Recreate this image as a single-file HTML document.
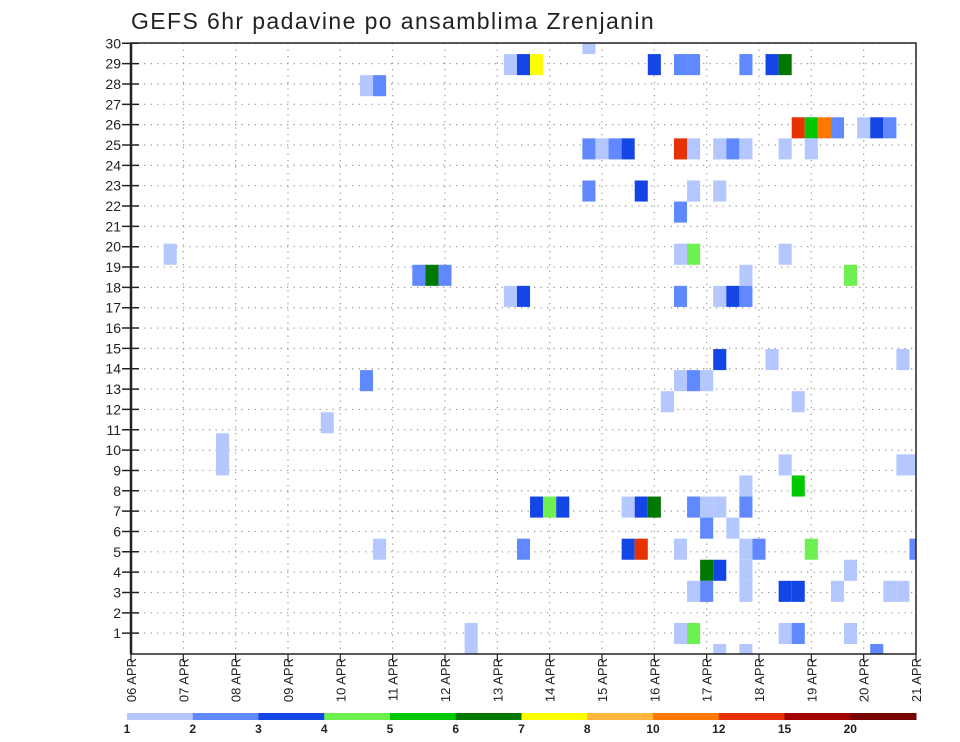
<!DOCTYPE html>
<html><head><meta charset="utf-8">
<style>
html,body{margin:0;padding:0;background:#fff;}
svg{display:block;font-family:"Liberation Sans",sans-serif;}
</style></head>
<body>
<svg id="chart" width="960" height="742" viewBox="0 0 960 742" xmlns="http://www.w3.org/2000/svg">
<text x="131" y="29" font-size="23" fill="#222" letter-spacing="1.4">GEFS 6hr padavine po ansamblima Zrenjanin</text>
<g id="grid"></g><g id="cells"></g><g id="axes"></g><g id="legend"></g>
</svg>
<script>
// time-step index (6h steps from 06 APR 00Z), ensemble member, colour level index
const cellStep = [35, 29,30,31,40,42,43,47,49,50, 18,19, 51,52,53,54,56,57,58,
 35,36,37,38,42,43,45,46,47,50,52, 35,39,43,45, 42, 3,42,43,50,
 22,23,24,47,55, 29,30,42,45,46,47, 45,49,59, 18,42,43,44, 41,51, 15, 7, 7,50,59,60,
 47,51, 31,32,33,38,39,40,43,44,45,47, 44,46, 19,30,38,39,42,47,48,52,60,
 44,45,47,55, 43,44,47,50,51,54,58,59, 26,42,43,50,51,55, 26,45,47,57];
const cellMember = [30, 29,29,29,29,29,29,29,29,29, 28,28, 26,26,26,26,26,26,26,
 25,25,25,25,25,25,25,25,25,25,25, 23,23,23,23, 22, 20,20,20,20,
 19,19,19,19,19, 18,18,18,18,18,18, 15,15,15, 14,14,14,14, 13,13, 12, 11, 10,10,10,10,
 9,9, 8,8,8,8,8,8,8,8,8,8, 7,7, 6,6,6,6,6,6,6,6,6,
 5,5,5,5, 4,4,4,4,4,4,4,4, 2,2,2,2,2,2, 1,1,1,1];
const cellLevel = [0, 0,2,6,2,1,1,1,2,5, 0,1, 9,4,8,1,0,2,1,
 1,0,1,2,9,0,0,1,0,0,0, 1,2,0,0, 1, 0,0,3,0,
 1,5,1,0,3, 0,2,1,0,2,1, 2,0,0, 1,0,1,0, 0,0, 0, 0, 0,0,0,0,
 0,4, 2,3,2,0,2,5,1,0,0,1, 1,0, 0,1,2,9,0,0,1,3,1,
 5,2,0,0, 0,1,0,2,2,0,0,0, 0,0,3,0,1,0, 0,0,0,1];
const levelColors = ["#b4c8ff","#6088ff","#1446e6","#6ef050","#00c800","#007800","#ffff00","#ffb43c","#ff7800","#e63200","#a00000","#780000"];
const levelLabels = ["1","2","3","4","5","6","7","8","10","12","15","20"];
const dayLabels = ["06","07","08","09","10","11","12","13","14","15","16","17","18","19","20","21"];
const memberTicks = [1,2,3,4,5,6,7,8,9,10,11,12,13,14,15,16,17,18,19,20,21,22,23,24,25,26,27,28,29,30];

const NS="http://www.w3.org/2000/svg";
const L=131,R=916,T=43,B=654;
const stepW=(R-L)/60;
const xStep=k=>L+k*stepW;
const xDay=d=>L+d*stepW*4;
const yTick=m=>43.3+(30-m)*20.34;
const rowH=21.07;
const yCellTop=m=>33+(30-m)*rowH;
function el(tag,attrs,parent){const e=document.createElementNS(NS,tag);for(const k in attrs)e.setAttribute(k,attrs[k]);parent.appendChild(e);return e;}

const grid=document.getElementById('grid');
memberTicks.forEach(m=>{
  const g=el('line',{x1:L,x2:R,y1:yTick(m),y2:yTick(m),stroke:'#999','stroke-width':1.2,'stroke-dasharray':'1.3,5.2'},grid);
  
  
});
dayLabels.forEach((d,i)=>{
  const g=el('line',{x1:xDay(i),x2:xDay(i),y1:T,y2:B,stroke:'#999','stroke-width':1.2,'stroke-dasharray':'1.3,5.2'},grid);
  
  
});

const cells=document.getElementById('cells');
const clip=el('clipPath',{id:'plotclip'},cells);
el('rect',{x:L,y:T,width:R-L,height:B-T},clip);
const cg=el('g',{'clip-path':'url(#plotclip)'},cells);
cellStep.forEach((k,i)=>{
  const m=cellMember[i];
  const c=el('rect',{x:xStep(k)-stepW/2,y:yCellTop(m),width:stepW,height:rowH,fill:levelColors[cellLevel[i]]},cg);
  
  
});

const axes=document.getElementById('axes');
const fr=el('rect',{x:L,y:T,width:R-L,height:B-T,fill:'none',stroke:'#222','stroke-width':1.5},axes);


const la=el('line',{x1:L,x2:L,y1:T,y2:B,stroke:'#222','stroke-width':2.5},axes);


memberTicks.forEach(m=>{
  const y=yTick(m);
  el('line',{x1:L-9,x2:L+8,y1:y,y2:y,stroke:'#222','stroke-width':1.5},axes);
  const t=el('text',{x:L-10,y:y+5,'font-size':14,'text-anchor':'end',fill:'#222'},axes);
  t.textContent=m;
  
  
});
dayLabels.forEach((d,i)=>{
  const x=xDay(i);
  el('line',{x1:x,x2:x,y1:B,y2:B+8,stroke:'#222','stroke-width':1.2},axes);
  const t=el('text',{x:0,y:0,'font-size':13,'text-anchor':'end',fill:'#222',transform:'translate('+(x+5)+','+(B+4)+') rotate(-90)'},axes);
  t.textContent=d+' APR';
  
  
});

const leg=document.getElementById('legend');
const lx0=127,lx1=916,segW=(lx1-lx0)/levelColors.length;
levelColors.forEach((c,i)=>{
  const r=el('rect',{x:lx0+i*segW,y:713,width:segW+0.5,height:7,fill:c},leg);
  
  
  const t=el('text',{x:lx0+i*segW,y:733,'font-size':12,'font-weight':'bold','text-anchor':'middle',fill:'#222'},leg);
  t.textContent=levelLabels[i];
  
  
});
</script>
</body></html>
